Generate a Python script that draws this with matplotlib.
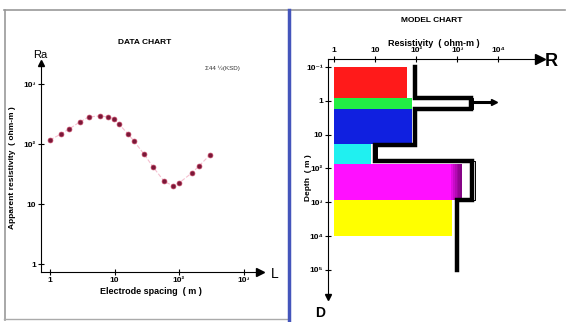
import numpy as np
import matplotlib.pyplot as plt
from matplotlib.lines import Line2D

plt.rcParams['font.family'] = ['Liberation Sans', 'DejaVu Sans']
plt.rcParams['font.weight'] = 'bold'

# data chart: apparent resistivity vs electrode spacing
spacing = [1, 1.48, 1.97, 2.92, 4.0, 5.96, 7.94, 9.8, 11.7, 16.2, 20, 28.6,
           39.5, 58.5, 80.7, 100, 158, 204, 302]
app_res = [117, 147, 178, 234, 282, 295, 282, 263, 215, 147, 112, 68,
           41.6, 24, 20, 22.4, 33, 43, 66]
data_xticks = [1, 10, 100, 1000]
data_xlabels = ['1', '10', '10²', '10³']
data_yticks = [1, 10, 100, 1000]
data_ylabels = ['1', '10', '10²', '10³']

# model chart: layers
layer_bounds = [0.1, 0.8, 1.8, 19, 75, 850, 1e4]
layer_res = [60, 80, 80, 8, 1300, 750]
layer_colors = ['#ff1a1a', '#22ee44', '#1020e0', '#20f0f0', '#ff10ff', '#ffff00']

# model curve (thick) and second curve (thin)
curve_bounds = [0.1, 0.85, 1.7, 20, 62, 880, 1e5]
curve_res = [95, 2200, 95, 10, 2300, 1000]
curve2_res = [100, 2400, 100, 11, 2700, 1000]
spike_depth = 1.05
spike_res = 8000

model_xticks = [1, 10, 100, 1000, 10000]
model_xlabels = ['1', '10', '10²', '10³', '10⁴']
model_yticks = [0.1, 1, 10, 100, 1000, 10000, 100000]
model_ylabels = ['10⁻¹', '1', '10', '10²', '10³', '10⁴', '10⁵']

W, H = 568, 322
fig = plt.figure(figsize=(W / 100, H / 100), dpi=100)
fig.patch.set_facecolor('white')


def box(l, t, r, b):
    return [l / W, (H - b) / H, (r - l) / W, (b - t) / H]


# frame lines
fig.add_artist(Line2D([4 / W, 565 / W], [1 - 10 / H, 1 - 10 / H], color='#999999', lw=1.2))
fig.add_artist(Line2D([5 / W, 5 / W], [1 - 10 / H, 1 - 320 / H], color='#999999', lw=1.2))
fig.add_artist(Line2D([4 / W, 288 / W], [1 - 319 / H, 1 - 319 / H], color='#aaaaaa', lw=1))
fig.add_artist(Line2D([289 / W, 289 / W], [1 - 10 / H, 0], color='#4455bb', lw=2.5))

# ---- data chart
ax1 = fig.add_axes(box(41, 63, 260, 272))
ax1.set_xscale('log')
ax1.set_yscale('log')
ax1.set_xlim(0.725, 1800)
ax1.set_ylim(0.736, 2240)
ax1.plot(spacing, app_res, color='#f5c0d0', lw=0.8, ls='--', zorder=1)
ax1.plot(spacing, app_res, 'o', color='#7a1838', ms=3.5, mec='#c04060', mew=0.5, zorder=2)
for s in ['top', 'right']:
    ax1.spines[s].set_visible(False)
for s in ['left', 'bottom']:
    ax1.spines[s].set_linewidth(0.8)
ax1.plot(1, 0, '>k', ms=6, transform=ax1.transAxes, clip_on=False)
ax1.plot(0, 1, '^k', ms=5, transform=ax1.transAxes, clip_on=False)
ax1.set_xticks(data_xticks)
ax1.set_xticklabels(data_xlabels)
ax1.set_yticks(data_yticks)
ax1.set_yticklabels(data_ylabels)
ax1.minorticks_off()
ax1.tick_params(direction='inout', length=5, width=0.8, labelsize=6, pad=1)
ax1.set_facecolor('none')
ax1.set_xlabel('Electrode spacing  ( m )', fontsize=6.5, labelpad=2, fontweight='bold')
ax1.set_ylabel('Apparent resistivity  ( ohm-m )', fontsize=6, labelpad=6, fontweight='bold')
fig.text(145 / W, 1 - 42 / H, 'DATA CHART', fontsize=6, ha='center', va='center')
fig.text(40 / W, 1 - 55 / H, 'Ra', fontsize=8, ha='center', va='center', weight='normal')
fig.text(275 / W, 1 - 274 / H, 'L', fontsize=10, ha='center', va='center', weight='normal')
fig.text(222 / W, 1 - 68 / H, 'Σ44 ½(KSD)', fontsize=4.5, ha='center', va='center',
         weight='normal', color='#333333')

# ---- model chart
ax2 = fig.add_axes(box(328, 59, 540, 297))
ax2.set_xscale('log')
ax2.set_yscale('log')
ax2.set_xlim(0.714, 1.05e5)
ax2.set_ylim(6.3e5, 0.058)
for i, c in enumerate(layer_colors):
    ax2.fill_betweenx([layer_bounds[i], layer_bounds[i + 1]], 1, layer_res[i],
                      color=c, lw=0, zorder=1)
# darker edge on the magenta layer
for k in range(6):
    r0 = layer_res[4] * 10 ** (-0.25 + 0.25 * k / 6)
    ax2.fill_betweenx([layer_bounds[4], layer_bounds[5]], r0, layer_res[4],
                      color='#400040', alpha=0.15, lw=0, zorder=1)

cx = np.repeat(curve_res, 2)
cy = np.repeat(curve_bounds, 2)[1:-1]
ax2.plot(cx, cy, color='black', lw=3.2, zorder=3, solid_joinstyle='miter')
cx2 = np.repeat(curve2_res, 2)
ax2.plot(cx2, cy, color='black', lw=0.7, zorder=2)
ax2.plot([curve_res[1], spike_res], [spike_depth, spike_depth], color='black', lw=2.2, zorder=3)
ax2.plot(spike_res, spike_depth, '>k', ms=4, zorder=3)

for s in ['bottom', 'right']:
    ax2.spines[s].set_visible(False)
for s in ['top', 'left']:
    ax2.spines[s].set_linewidth(0.8)
ax2.plot(1, 1, '>k', ms=7, transform=ax2.transAxes, clip_on=False)
ax2.plot(0, 0, 'vk', ms=4, transform=ax2.transAxes, clip_on=False)
ax2.xaxis.tick_top()
ax2.xaxis.set_label_position('top')
ax2.set_xticks(model_xticks)
ax2.set_xticklabels(model_xlabels)
ax2.set_yticks(model_yticks)
ax2.set_yticklabels(model_ylabels)
ax2.minorticks_off()
ax2.tick_params(direction='inout', length=5, width=0.8, labelsize=6, pad=1)
ax2.set_facecolor('none')
ax2.set_xlabel('Resistivity  ( ohm-m )', fontsize=6.5, labelpad=1, fontweight='bold')
ax2.set_ylabel('Depth  ( m )', fontsize=6, labelpad=-4, fontweight='bold')
fig.text(432 / W, 1 - 20 / H, 'MODEL CHART', fontsize=6, ha='center', va='center')
fig.text(551 / W, 1 - 61 / H, 'R', fontsize=13, ha='center', va='center')
fig.text(320 / W, 1 - 313 / H, 'D', fontsize=10, ha='center', va='center')

fig.savefig('out.png', dpi=100)
